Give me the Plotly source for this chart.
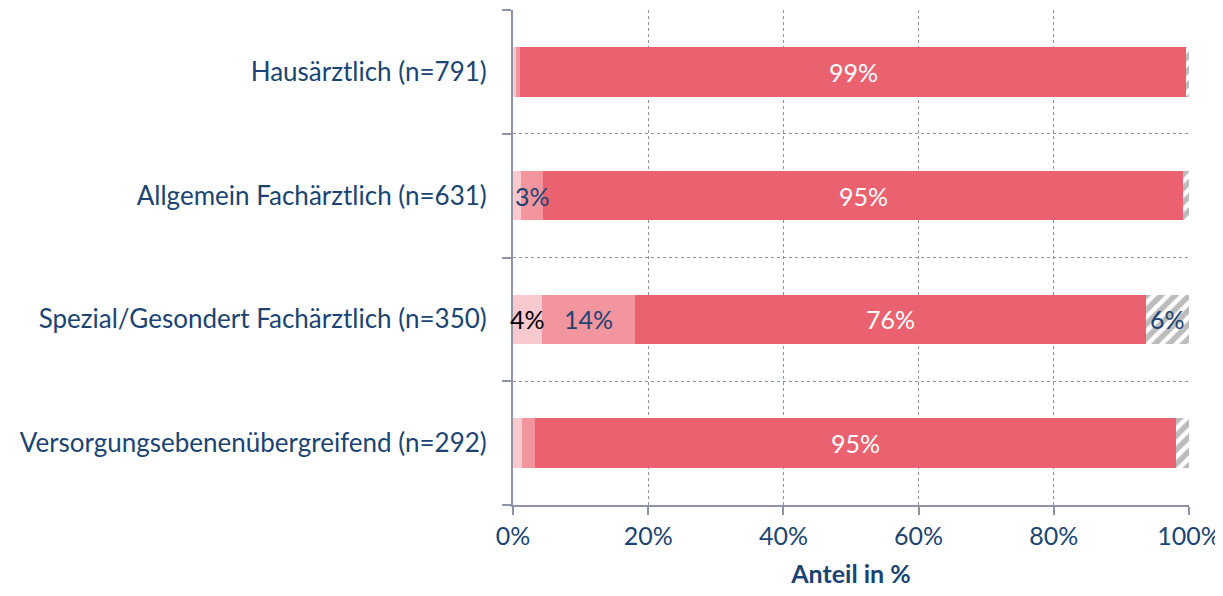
import plotly.graph_objects as go

categories = ["Hausärztlich (n=791)", "Allgemein Fachärztlich (n=631)",
              "Spezial/Gesondert Fachärztlich (n=350)", "Versorgungsebenenübergreifend (n=292)"]
seg1 = [0.4, 1.2, 4.3, 1.3]
seg2 = [0.6, 3.3, 13.8, 1.9]
seg3 = [98.6, 94.6, 75.5, 94.9]
seg4 = [0.4, 0.9, 6.4, 1.9]
lab1 = [None, None, "4%", None]
lab2 = [None, "3%", "14%", None]
lab3 = ["99%", "95%", "76%", "95%"]
lab4 = [None, None, "6%", None]
xticks = [0, 20, 40, 60, 80, 100]

FONT = "Lato"
FS = 25
BLUE = "#1B4472"
GRID = "#8E93A8"

ypos = list(range(len(categories)))
fig = go.Figure()
colors = ["#F9C9D0", "#F2959F", "#EA6270"]
for vals, col in zip([seg1, seg2, seg3], colors):
    fig.add_trace(go.Bar(y=ypos, x=vals, orientation="h", width=0.4,
                         marker=dict(color=col, line=dict(width=0)), showlegend=False,
                         hoverinfo="skip"))
fig.add_trace(go.Bar(y=ypos, x=seg4, orientation="h", width=0.4,
                     marker=dict(color="white", line=dict(width=0),
                                 pattern=dict(shape="/", fgcolor="#7A7A7A", bgcolor="white",
                                              size=10, solidity=0.55)),
                     showlegend=False, hoverinfo="skip"))

label_sets = [(seg1, lab1, "black"), (seg2, lab2, BLUE), (seg3, lab3, "white"), (seg4, lab4, BLUE)]
starts = [0.0] * len(categories)
for vals, labs, col in label_sets:
    for i, (v, l) in enumerate(zip(vals, labs)):
        if l:
            fig.add_annotation(x=starts[i] + v / 2, y=ypos[i], text=l, showarrow=False,
                               font=dict(family=FONT, size=FS, color=col))
    starts = [s + v for s, v in zip(starts, vals)]

fig.update_layout(
    barmode="stack", width=1215, height=588,
    margin=dict(l=505, r=34, t=2, b=91),
    paper_bgcolor="white", plot_bgcolor="white",
    font=dict(family=FONT, size=FS, color=BLUE),
    bargap=0,
)
fig.update_xaxes(range=[0, 100], tickvals=xticks, ticktext=[f"{t}%" for t in xticks],
                 automargin=False,
                 showgrid=True, gridcolor=GRID, griddash="dot", gridwidth=1,
                 showline=True, linecolor=GRID, linewidth=2,
                 ticks="outside", ticklen=8, tickcolor=GRID, tickwidth=2,
                 zeroline=False,
                 title=dict(text="<b>Anteil in %</b>", font=dict(family=FONT, size=FS, color=BLUE), standoff=16))
fig.update_yaxes(range=[3.5, -0.5], tickvals=ypos, ticktext=categories,
                 automargin=False, tickfont=dict(size=26),
                 showgrid=False, zeroline=False, ticks="",
                 showline=True, linecolor=GRID, linewidth=2, ticklabelstandoff=19,
                 minor=dict(tickvals=[-0.5, 0.5, 1.5, 2.5, 3.5], showgrid=True, gridcolor=GRID,
                            griddash="dot", gridwidth=1, ticks="outside", ticklen=9,
                            tickcolor=GRID, tickwidth=2))

fig.write_html("out.html")
